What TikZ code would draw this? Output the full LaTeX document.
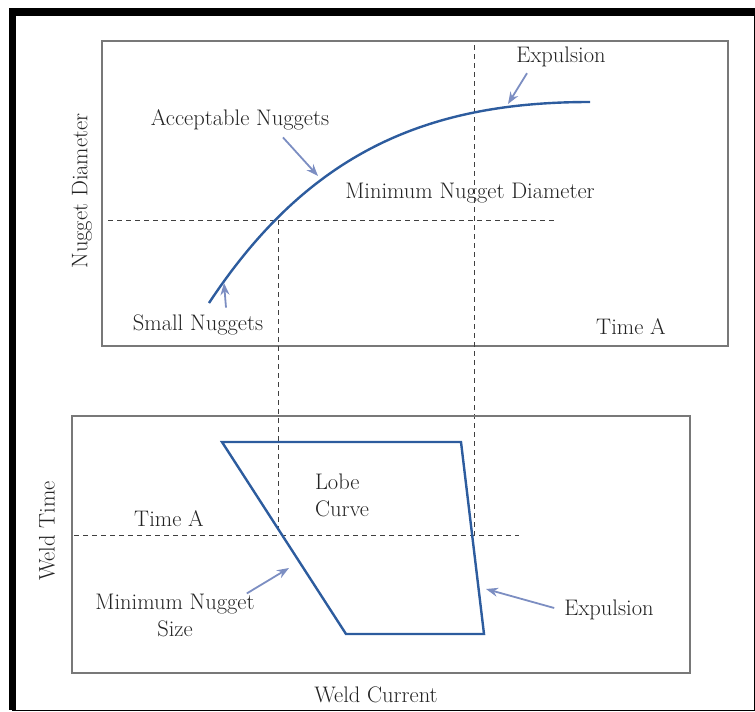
\documentclass[tikz,border=0pt]{standalone}
\usepackage{tikz}
\usetikzlibrary{calc,arrows.meta}
\definecolor{curveblue}{RGB}{45,92,158}
\definecolor{arrowblue}{RGB}{124,142,194}
\definecolor{textgray}{RGB}{35,35,35}
\definecolor{framegray}{RGB}{120,120,120}
\tikzset{
  frame/.style={draw=framegray, line width=1.5pt},
  guide/.style={draw=black!75, line width=0.9pt, dash pattern=on 5pt off 4pt},
  lobe/.style={draw=curveblue, line width=2.4pt, line join=miter},
  pointer/.style={draw=arrowblue, line width=1.8pt, -{Stealth[length=12pt,width=9pt]}},
  lbl/.style={inner sep=0pt, text=textgray, font=\fontsize{22.5}{27}\selectfont},
}

\begin{document}
\begin{tikzpicture}[x=1pt,y=-1pt]
			%%%%% START %%%%%
			\useasboundingbox (0,0) rectangle (755,712);
			
			% outer frame
			\draw[line width=1pt] (12,12) rectangle (754,710);
			\fill[black] (9,8) rectangle (755,16);
			\fill[black] (9,8) rectangle (16,710);
			
			% top panel: nugget diameter against weld current
			\draw[frame] (102,41) rectangle (728,346);
			\draw[guide] (108,220) -- (555,220);
			\draw[guide] (474,45) -- (474,535);
			\draw[guide] (278,220) -- (278,535);
			\draw[lobe] (209,303) .. controls (310,150) and (430,102) .. (590,102);
			
			\node[lbl] (expTop) at (561,57) {Expulsion};
			\node[lbl] (accept) at (240,120) {Acceptable Nuggets};
			\node[lbl] (minDia) at (470,193) {Minimum Nugget Diameter};
			\node[lbl] (small) at (198,325) {Small Nuggets};
			\node[lbl] (timeTop) at (631,327) {Time A};
			\node[lbl, rotate=90] (nDia) at (82,191) {Nugget Diameter};
			
			\coordinate (expTopTip) at (508,104);
			\coordinate (acceptTip) at (318,176);
			\coordinate (smallTip) at (224,283);
			\draw[pointer] ($(expTop.south)+(-34,6)$) -- (expTopTip);
			\draw[pointer] ($(accept.south)+(43,7)$) -- (acceptTip);
			\draw[pointer] ($(small.north)+(28,-7)$) -- (smallTip);
			
			% bottom panel: lobe curve
			\draw[frame] (72,416) rectangle (690,673);
			\draw[guide] (74,535) -- (519,535);
			\draw[lobe] (222,442) -- (461,442) -- (484,634) -- (346,634) -- cycle;
			
			\node[lbl, align=left] (lobeTxt) at (342,495) {Lobe\\Curve};
			\node[lbl] (timeBot) at (169,519) {Time A};
			\node[lbl, align=center] (minSize) at (175,615) {Minimum Nugget\\Size};
			\node[lbl] (expBot) at (609,610) {Expulsion};
			\node[lbl, rotate=90] (wTime) at (47,531) {Weld Time};
			\node[lbl] (wCurrent) at (376,695) {Weld Current};
			
			\coordinate (minSizeTip) at (289,568);
			\coordinate (expBotTip) at (486,589);
			\draw[pointer] ($(minSize.north east)+(-8,0)$) -- (minSizeTip);
			\draw[pointer] ($(expBot.west)+(-10,-2)$) -- (expBotTip);
			
			%%%%% END %%%%%
\end{tikzpicture}
\end{document}
